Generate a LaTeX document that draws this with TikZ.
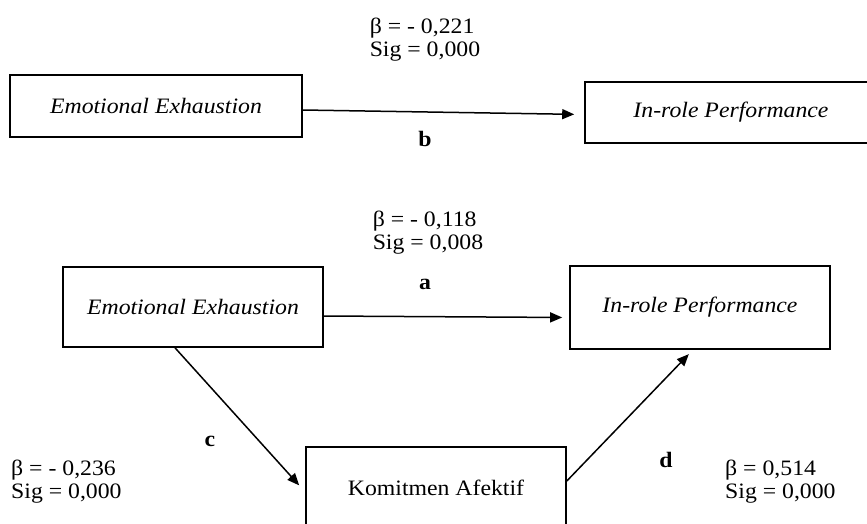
\documentclass[tikz,border=0pt]{standalone}
\usepackage{fontspec}
\setmainfont{Liberation Serif}[FakeStretch=1.08]
\usetikzlibrary{arrows.meta}
\begin{document}
\begin{tikzpicture}[x=1pt,y=-1pt,
  every node/.style={font=\fontsize{22}{23}\selectfont},
  box/.style={draw,line width=1.6pt,inner sep=0pt},
  fleche/.style={line width=1.5pt,-{Triangle[length=12pt,width=10pt]}},
  stat/.style={align=left,inner sep=0pt},
  lettre/.style={font=\fontsize{22}{23}\selectfont\bfseries,inner sep=0pt}]
\useasboundingbox (0,0) rectangle (867,523);
% Modele direct
\node[box,minimum width=292pt,minimum height=62pt] (ee1) at (156,106) {\itshape Emotional Exhaustion};
\node[box,minimum width=292pt,minimum height=61pt] (irp1) at (731,112.5) {\itshape In-role Performance};
\node[stat] (s1) at (425,40) {β = - 0,221\\Sig = 0,000};
\draw[fleche,shorten >=10pt] ([yshift=-4pt]ee1.east) -- %
  ([yshift=-2pt]irp1.west) ;
\node[lettre] (b) at (425,139) {b};
% Modele avec mediation
\node[box,minimum width=260pt,minimum height=80pt] (ee2) at (193,307) {\itshape Emotional Exhaustion};
\node[box,minimum width=260pt,minimum height=83pt] (irp2) at (700,307.5) {\itshape In-role Performance};
\node[box,minimum width=260pt,minimum height=82pt] (ka) at (436,488) {Komitmen Afektif};
\node[stat] (s2) at (428,233) {β = - 0,118\\Sig = 0,008};
\node[stat,anchor=west] (s3) at (11,482) {β = - 0,236\\Sig = 0,000};
\node[stat,anchor=west] (s4) at (725,482) {β = 0,514\\Sig = 0,000};
\draw[fleche,shorten >=7pt] ([yshift=-9pt]ee2.east) -- %
  ([yshift=-10pt]irp2.west) ;
\draw[fleche,shorten >=9pt] ([xshift=-18pt]ee2.south) -- %
  ([yshift=-4pt]ka.west) ;
\draw[fleche,shorten >=6pt] ([yshift=7pt]ka.east) -- %
  ([xshift=-7pt]irp2.south) ;
\node[lettre] (a) at (425,284) {a};
\node[lettre] (c) at (210,441) {c};
\node[lettre] (d) at (666,460) {d};
\end{tikzpicture}
\end{document}
